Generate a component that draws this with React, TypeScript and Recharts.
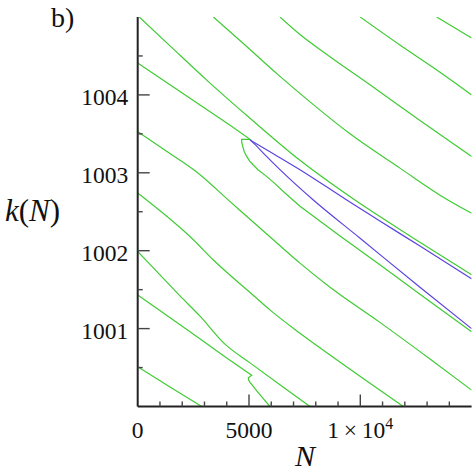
import React from 'react';
import { LineChart, Line, XAxis, YAxis } from 'recharts';

// ---- data: contour curves as [N, k(N)] pairs ----
const curveA = [[13430, 1005], [15000, 1004.73]];
const curveB = [[9990, 1005], [11780, 1004.64], [13580, 1004.29], [15000, 1004.0]];
const curveC = [[6390, 1005], [7291, 1004.775], [8638, 1004.49], [10435, 1004.13], [12681, 1003.67], [15000, 1003.21]];
const curveD = [[3400, 1005], [4820, 1004.64], [6302, 1004.26], [7740, 1003.91], [9537, 1003.5], [11782, 1003.06], [13880, 1002.66], [15000, 1002.48]];
const curveE = [[70, 1005], [1450, 1004.63], [3100, 1004.19], [5045, 1003.7], [7290, 1003.16], [9760, 1002.65], [12230, 1002.19], [15000, 1001.69]];
const curveF = [
  [0, 1004.41], [1450, 1004.13], [2800, 1003.87], [4150, 1003.61], [5045, 1003.43],
  [4670, 1003.43], [4676, 1003.386], [4717, 1003.34], [4788, 1003.27], [4896, 1003.21],
  [5031, 1003.15], [5193, 1003.1], [5404, 1003.04], [5718, 1002.97], [6091, 1002.88],
  [6617, 1002.74], [7291, 1002.57], [9090, 1002.19], [10880, 1001.82], [12680, 1001.44], [15000, 1000.96],
];
const curveG = [[0, 1003.53], [1230, 1003.29], [2650, 1003.01], [4150, 1002.63], [6090, 1002.14], [7290, 1001.84], [8640, 1001.53], [10880, 1001.08], [13130, 1000.61], [15000, 1000.21]];
const curveH = [[0, 1002.74], [2500, 1002.14], [3400, 1001.88], [5345, 1001.39], [5940, 1001.24], [7290, 1000.94], [8640, 1000.66], [11930, 1000.0]];
const curveI = [[0, 1001.99], [1000, 1001.69], [1900, 1001.42], [2800, 1001.16], [3920, 1000.8], [5045, 1000.56], [6620, 1000.23], [7740, 1000.0]];
const curveJ = [
  [0, 1001.43], [850, 1001.26], [2350, 1000.96], [3920, 1000.64], [5120, 1000.4],
  [4970, 1000.37], [4982, 1000.34], [5045, 1000.31], [5157, 1000.27], [5292, 1000.22],
  [5584, 1000.12], [5943, 1000.0],
];
const curveK = [[0, 1000.51], [1450, 1000.25], [2875, 1000.0]];
const blueUpper = [[5045, 1003.42], [5940, 1003.27], [7290, 1003.04], [9390, 1002.65], [10880, 1002.38], [12680, 1002.06], [15000, 1001.64]];
const blueLower = [[5045, 1003.42], [5130, 1003.4], [5720, 1003.23], [6390, 1003.04], [7890, 1002.65], [9990, 1002.16], [12680, 1001.53], [15000, 1001.0]];

// smooth (x-monotone) green curves vs. curves with a cusp (drawn straight between points)
const greenSmooth = [curveA, curveB, curveC, curveD, curveE, curveG, curveH, curveI, curveK];
const greenCusp = [curveF, curveJ];
const blueCurves = [blueUpper, blueLower];

const xTicks = [0, 1000, 2000, 3000, 4000, 5000, 6000, 7000, 8000, 9000, 10000, 11000, 12000, 13000, 14000];
const xMajor = [0, 5000, 10000];
const yTicks = [1000.5, 1001, 1001.5, 1002, 1002.5, 1003, 1003.5, 1004, 1004.5];
const yLabels = [1001, 1002, 1003, 1004];

const toPts = (arr: number[][]) => arr.map(([N, k]) => ({ N, k }));

const FONT = "'Liberation Serif', 'DejaVu Serif', serif";
const textStyle: React.CSSProperties = { fontFamily: FONT };
const GREEN = '#3fcc33';
const BLUE = '#5a44e0';

const XTick = (props: any) => {
  const { x, y, payload } = props;
  const v = payload.value as number;
  const major = xMajor.includes(v);
  let label: React.ReactNode = null;
  if (v === 0 || v === 5000) {
    label = (
      <text x={x} y={y + 31.5} textAnchor="middle" style={textStyle} fontSize={23.5} fill="#111">
        {String(v)}
      </text>
    );
  } else if (v === 10000) {
    label = (
      <text x={x} y={y + 31.5} textAnchor="middle" style={textStyle} fontSize={23.5} fill="#111">
        <tspan>{'1\u2009×\u200910'}</tspan>
        <tspan dy={-9} fontSize={16}>4</tspan>
      </text>
    );
  }
  return (
    <g>
      {v !== 0 && (
        <line x1={x} x2={x} y1={y} y2={y - (major ? 12 : 5)} stroke="#444" strokeWidth={1.4} />
      )}
      {label}
    </g>
  );
};

const YTick = (props: any) => {
  const { x, y, payload } = props;
  const v = payload.value as number;
  const major = yLabels.includes(v);
  return (
    <g>
      <line x1={x} x2={x + (major ? 12 : 5)} y1={y} y2={y} stroke="#444" strokeWidth={1.4} />
      {major && (
        <text x={x - 9.5} y={y + 10} textAnchor="end" style={textStyle} fontSize={23.5} fill="#111">
          {String(v)}
        </text>
      )}
    </g>
  );
};

const lineProps = {
  dataKey: 'k',
  strokeWidth: 1.2,
  dot: false,
  activeDot: false,
  isAnimationActive: false,
};

export default function App() {
  return (
    <div style={{ position: 'absolute', left: 0, top: 0, width: 473, height: 473, background: '#fff' }}>
      <LineChart width={473} height={473} margin={{ top: 17, right: 1.4, bottom: 0, left: 0 }}>
        <XAxis
          type="number"
          dataKey="N"
          domain={[0, 15000]}
          allowDataOverflow
          ticks={xTicks}
          interval={0}
          tick={<XTick />}
          tickLine={false}
          tickSize={0}
          tickMargin={0}
          height={66.5}
          axisLine={{ stroke: '#222', strokeWidth: 2 }}
        />
        <YAxis
          type="number"
          dataKey="k"
          domain={[1000, 1005]}
          allowDataOverflow
          ticks={yTicks}
          interval={0}
          tick={<YTick />}
          tickLine={false}
          tickSize={0}
          tickMargin={0}
          width={137.7}
          axisLine={{ stroke: '#222', strokeWidth: 2 }}
        />
        {greenSmooth.map((c, i) => (
          <Line key={'gs' + i} data={toPts(c)} type="monotone" stroke={GREEN} {...lineProps} />
        ))}
        {greenCusp.map((c, i) => (
          <Line key={'gc' + i} data={toPts(c)} type="linear" stroke={GREEN} {...lineProps} />
        ))}
        {blueCurves.map((c, i) => (
          <Line key={'b' + i} data={toPts(c)} type="monotone" stroke={BLUE} {...lineProps} />
        ))}
      </LineChart>
      <svg width={473} height={473} style={{ position: 'absolute', left: 0, top: 0, pointerEvents: 'none' }}>
        <text x={51} y={27} style={textStyle} fontSize={28} fill="#111">b)</text>
        <text x={5} y={221} style={textStyle} fontSize={31} fill="#111">
          <tspan fontStyle="italic">k</tspan>
          <tspan>(</tspan>
          <tspan fontStyle="italic">N</tspan>
          <tspan>)</tspan>
        </text>
        <text x={305} y={466} textAnchor="middle" style={textStyle} fontSize={30} fontStyle="italic" fill="#111">N</text>
      </svg>
    </div>
  );
}
